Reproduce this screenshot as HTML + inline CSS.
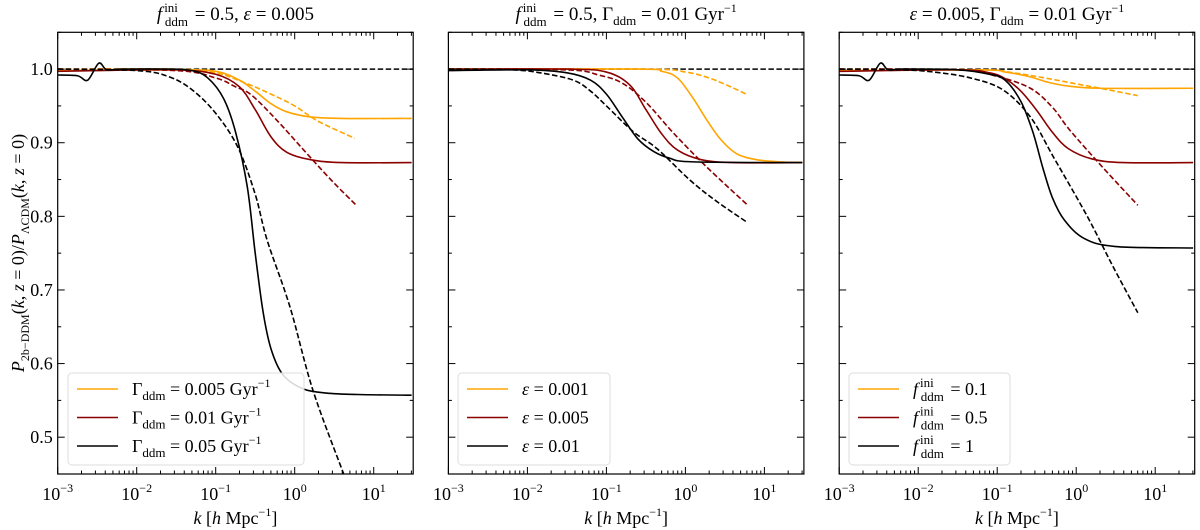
<!DOCTYPE html>
<html><head><meta charset="utf-8"><style>
body{margin:0;background:#fff}
svg{display:block}
text{font-family:"Liberation Serif","DejaVu Serif",serif;fill:#000}
</style></head><body>
<svg id="chart" width="1200" height="530" viewBox="0 0 1200 530" xmlns="http://www.w3.org/2000/svg"></svg>
<script>
// x values are log10(k); y values are P ratio
const colors = ["#ffa500","#8b0000","#000000"];
// Panel 1: Gamma variations
const p1YellowSolid = [[-3,0.998],[-1.5,0.999],[-1.0,0.997],[-0.7,0.985],[-0.5,0.970],[-0.3,0.953],[-0.1,0.942],[0.2,0.935],[0.6,0.933],[1.48,0.933]];
const p1YellowDash = [[-3,1.0],[-1.5,1.0],[-1.0,0.995],[-0.6,0.98],[-0.3,0.966],[0,0.95],[0.3,0.929],[0.76,0.906]];
const p1RedSolid = [[-3,0.997],[-2.5,0.998],[-1.5,0.999],[-1.0,0.993],[-0.7,0.976],[-0.5,0.945],[-0.3,0.908],[-0.1,0.887],[0.2,0.877],[0.6,0.873],[1.48,0.873]];
const p1RedDash = [[-3,1.0],[-1.5,0.998],[-1.0,0.988],[-0.75,0.976],[-0.55,0.965],[-0.23,0.931],[0.19,0.881],[0.5,0.845],[0.78,0.815]];
const p1BlackSolid = [[-3,0.992],[-2.75,0.991],[-2.62,0.985],[-2.48,1.008],[-2.38,0.999],[-2.2,1.0],[-1.6,1.0],[-1.3,0.998],[-1.1,0.988],[-0.9,0.96],[-0.75,0.915],[-0.6,0.84],[-0.5,0.75],[-0.4,0.67],[-0.3,0.62],[-0.15,0.585],[0.1,0.566],[0.4,0.560],[0.8,0.558],[1.48,0.557]];
const p1BlackDash = [[-3,1.0],[-2,0.998],[-1.6,0.99],[-1.3,0.972],[-1.0,0.94],[-0.72,0.894],[-0.5,0.83],[-0.35,0.768],[-0.06,0.677],[0.23,0.564],[0.62,0.45]];
// Panel 2: epsilon variations
const p2YellowSolid = [[-3,1.0],[-0.6,1.0],[-0.3,0.997],[-0.1,0.988],[0.1,0.96],[0.27,0.931],[0.45,0.904],[0.65,0.885],[0.9,0.877],[1.2,0.874],[1.48,0.873]];
const p2YellowDash = [[-3,1.0],[-0.5,1.0],[0,0.996],[0.3,0.988],[0.55,0.977],[0.79,0.965]];
const p2RedSolid = [[-3,1.0],[-1.5,1.0],[-1.0,0.996],[-0.7,0.978],[-0.5,0.945],[-0.3,0.912],[-0.1,0.89],[0.2,0.877],[0.6,0.873],[1.48,0.873]];
const p2RedDash = [[-3,1.0],[-1.5,0.999],[-1.1,0.992],[-0.8,0.981],[-0.5,0.955],[-0.15,0.913],[0.27,0.867],[0.79,0.815]];
const p2BlackSolid = [[-3,0.998],[-2,0.999],[-1.5,0.995],[-1.2,0.985],[-1.0,0.966],[-0.8,0.935],[-0.6,0.905],[-0.4,0.888],[-0.2,0.879],[0.1,0.874],[1.48,0.873]];
const p2BlackDash = [[-3,1.0],[-2.2,0.999],[-1.84,0.995],[-1.42,0.985],[-1.2,0.97],[-0.99,0.949],[-0.66,0.915],[-0.36,0.892],[0.06,0.849],[0.4,0.82],[0.78,0.792]];
// Panel 3: f_ini variations
const p3YellowSolid = [[-3,0.998],[-1.2,0.999],[-0.9,0.996],[-0.6,0.99],[-0.35,0.982],[-0.1,0.977],[0.3,0.974],[1.48,0.974]];
const p3YellowDash = [[-3,1.0],[-1.2,0.999],[-0.8,0.995],[-0.4,0.988],[0,0.98],[0.4,0.972],[0.78,0.964]];
const p3RedSolid = [[-3,0.997],[-1.5,0.999],[-1.1,0.995],[-0.9,0.987],[-0.7,0.97],[-0.5,0.944],[-0.3,0.914],[-0.1,0.892],[0.2,0.878],[0.6,0.873],[1.48,0.873]];
const p3RedDash = [[-3,1.0],[-1.5,0.999],[-1.0,0.99],[-0.58,0.974],[-0.3,0.948],[-0.08,0.917],[0.34,0.866],[0.78,0.815]];
const p3BlackSolid = [[-3,0.992],[-2.75,0.991],[-2.62,0.985],[-2.48,1.008],[-2.38,0.999],[-2.2,1.0],[-1.5,0.999],[-1.1,0.993],[-0.9,0.985],[-0.7,0.956],[-0.55,0.915],[-0.42,0.865],[-0.3,0.825],[-0.15,0.795],[0.1,0.770],[0.5,0.759],[1.48,0.757]];
const p3BlackDash = [[-3,1.0],[-2.2,0.999],[-1.8,0.996],[-1.34,0.988],[-0.93,0.972],[-0.58,0.935],[-0.29,0.881],[0.14,0.8],[0.47,0.731],[0.78,0.669]];
const yTickLabels = ["0.5","0.6","0.7","0.8","0.9","1.0"];
const yTickValues = [0.5,0.6,0.7,0.8,0.9,1.0];
const xDecades = [-3,-2,-1,0,1];

const NS="http://www.w3.org/2000/svg";
const svg=document.getElementById('chart');
const panelsLeft=[57.7,448.4,839.2];
const PW=355.5, TOP=32.3, BOT=474;
const XMIN=-3, XMAX=-3+PW/79, YMIN=0.45, YMAX=1.05;
function mk(tag,attrs,parent){const e=document.createElementNS(NS,tag);for(const k in attrs)e.setAttribute(k,attrs[k]);(parent||svg).appendChild(e);return e;}
function xs(L,v){return L+(v-XMIN)/(XMAX-XMIN)*PW;}
function ys(v){return BOT-(v-YMIN)/(YMAX-YMIN)*(BOT-TOP);}
function pathFrom(pts){
  let d=`M${pts[0][0].toFixed(2)},${pts[0][1].toFixed(2)}`;
  for(let i=0;i<pts.length-1;i++){
    const p0=pts[Math.max(0,i-1)],p1=pts[i],p2=pts[i+1],p3=pts[Math.min(pts.length-1,i+2)];
    const c1=[p1[0]+(p2[0]-p0[0])/6,p1[1]+(p2[1]-p0[1])/6];
    const c2=[p2[0]-(p3[0]-p1[0])/6,p2[1]-(p3[1]-p1[1])/6];
    d+=` C${c1[0].toFixed(2)},${c1[1].toFixed(2)} ${c2[0].toFixed(2)},${c2[1].toFixed(2)} ${p2[0].toFixed(2)},${p2[1].toFixed(2)}`;
  }
  return d;
}
const series=[
 [p1YellowSolid,p1YellowDash,p1RedSolid,p1RedDash,p1BlackSolid,p1BlackDash],
 [p2YellowSolid,p2YellowDash,p2RedSolid,p2RedDash,p2BlackSolid,p2BlackDash],
 [p3YellowSolid,p3YellowDash,p3RedSolid,p3RedDash,p3BlackSolid,p3BlackDash]];
const names=["yellow","yellow","red","red","black","black"];
const FINI='<tspan font-style="italic">f</tspan><tspan font-size="13" dy="-8" dx="2">ini</tspan><tspan font-size="13" dy="14" dx="-13">ddm</tspan>';
const titles=[
 FINI+'<tspan dy="-6" dx="2"> = 0.5, </tspan><tspan font-style="italic">ε</tspan><tspan> = 0.005</tspan>',
 FINI+'<tspan dy="-6" dx="2"> = 0.5, Γ</tspan><tspan font-size="13" dy="5">ddm</tspan><tspan dy="-5"> = 0.01 Gyr</tspan><tspan font-size="12" dy="-8">−1</tspan>',
 '<tspan font-style="italic">ε</tspan><tspan> = 0.005, Γ</tspan><tspan font-size="13" dy="5">ddm</tspan><tspan dy="-5"> = 0.01 Gyr</tspan><tspan font-size="12" dy="-8">−1</tspan>'];
const legends=[
 ['Γ<tspan font-size="13" dy="5">ddm</tspan><tspan dy="-5"> = 0.005 Gyr</tspan><tspan font-size="12" dy="-8">−1</tspan>',
  'Γ<tspan font-size="13" dy="5">ddm</tspan><tspan dy="-5"> = 0.01 Gyr</tspan><tspan font-size="12" dy="-8">−1</tspan>',
  'Γ<tspan font-size="13" dy="5">ddm</tspan><tspan dy="-5"> = 0.05 Gyr</tspan><tspan font-size="12" dy="-8">−1</tspan>'],
 ['<tspan font-style="italic">ε</tspan> = 0.001','<tspan font-style="italic">ε</tspan> = 0.005','<tspan font-style="italic">ε</tspan> = 0.01'],
 [FINI+'<tspan dy="-6" dx="2"> = 0.1</tspan>', FINI+'<tspan dy="-6" dx="2"> = 0.5</tspan>', FINI+'<tspan dy="-6" dx="2"> = 1</tspan>']];
const legendBox=[[68,373,236],[458,373,152],[849,373,161]];

panelsLeft.forEach((L,pi)=>{
  const g=mk('g',{});
  
  
  mk('defs',{},g).innerHTML=`<clipPath id="clip${pi}"><rect x="${L}" y="${TOP}" width="${PW}" height="${BOT-TOP}"/></clipPath>`;
  const t=mk('text',{x:L+PW/2,y:20,'text-anchor':'middle','font-size':19},g);
  t.innerHTML=titles[pi];
  
  
  const ref=mk('line',{x1:L,x2:L+PW,y1:ys(1.0),y2:ys(1.0),stroke:'#000','stroke-width':1.5,'stroke-dasharray':'5.5,2.5'},g);
  
  
  const cg=mk('g',{'clip-path':`url(#clip${pi})`},g);
  series[pi].forEach((s,si)=>{
    const pts=s.map(p=>[xs(L,p[0]),ys(p[1])]);
    const p=mk('path',{d:pathFrom(pts),fill:'none',stroke:colors[Math.floor(si/2)],'stroke-width':1.6},cg);
    if(si%2===1)p.setAttribute('stroke-dasharray','5.5,2.5');
    
    
  });
  const tg=mk('g',{stroke:'#000','stroke-width':1},g);
  for(let d=-3;d<=1;d++){
    for(let m=1;m<10;m++){
      const v=d+Math.log10(m); if(v>XMAX)break;
      const x=xs(L,v), len=m===1?7:3.5;
      mk('line',{x1:x,x2:x,y1:BOT,y2:BOT-len},tg);
      mk('line',{x1:x,x2:x,y1:TOP,y2:TOP+len},tg);
    }
  }
  for(let v=0.45;v<=1.051;v+=0.05){
    const y=ys(v), major=Math.abs(v*10-Math.round(v*10))<0.01, len=major?7:3.5;
    mk('line',{x1:L,x2:L+len,y1:y,y2:y},tg);
    mk('line',{x1:L+PW,x2:L+PW-len,y1:y,y2:y},tg);
  }
  xDecades.forEach(d=>{
    const tx=mk('text',{x:xs(L,d),y:500,'text-anchor':'middle','font-size':18},g);
    tx.innerHTML=`10<tspan font-size="12" dy="-8">${d===0?'0':(d<0?'−'+(-d):d)}</tspan>`;
    
    
  });
  if(pi===0){
    yTickValues.forEach((v,i)=>{
      const ty=mk('text',{x:L-5,y:ys(v)+6,'text-anchor':'end','font-size':18},g);
      ty.textContent=yTickLabels[i];
      
      
    });
  }
  const xl=mk('text',{x:L+PW/2,y:524,'text-anchor':'middle','font-size':18},g);
  xl.innerHTML='<tspan font-style="italic">k</tspan> [<tspan font-style="italic">h</tspan> Mpc<tspan font-size="12" dy="-8">−1</tspan><tspan dy="8">]</tspan>';
  
  
  mk('rect',{x:L,y:TOP,width:PW,height:BOT-TOP,fill:'none',stroke:'#000','stroke-width':1.2},g);
  const [lx,ly,lw]=legendBox[pi];
  const lg=mk('g',{},g);
  
  
  mk('rect',{x:lx,y:ly,width:lw,height:92,rx:4,fill:'#fff','fill-opacity':0.85,stroke:'#ddd','stroke-width':1},lg);
  legends[pi].forEach((txt,i)=>{
    const ey=ly+16+i*28.5;
    const e=mk('g',{},lg);
    
    
    mk('line',{x1:lx+9,x2:lx+50,y1:ey,y2:ey,stroke:colors[i],'stroke-width':1.6},e);
    const tt=mk('text',{x:lx+64,y:ey+6,'font-size':18},e);
    tt.innerHTML=txt;
  });
});
const yl=mk('text',{transform:'translate(24,253) rotate(-90)','text-anchor':'middle','font-size':18});
yl.innerHTML='<tspan font-style="italic">P</tspan><tspan font-size="12" dy="5">2b−DDM</tspan><tspan dy="-5">(<tspan font-style="italic">k</tspan>, <tspan font-style="italic">z</tspan> = 0)/</tspan><tspan font-style="italic">P</tspan><tspan font-size="12" dy="5">ΛCDM</tspan><tspan dy="-5">(<tspan font-style="italic">k</tspan>, <tspan font-style="italic">z</tspan> = 0)</tspan>';


</script>
</body></html>
